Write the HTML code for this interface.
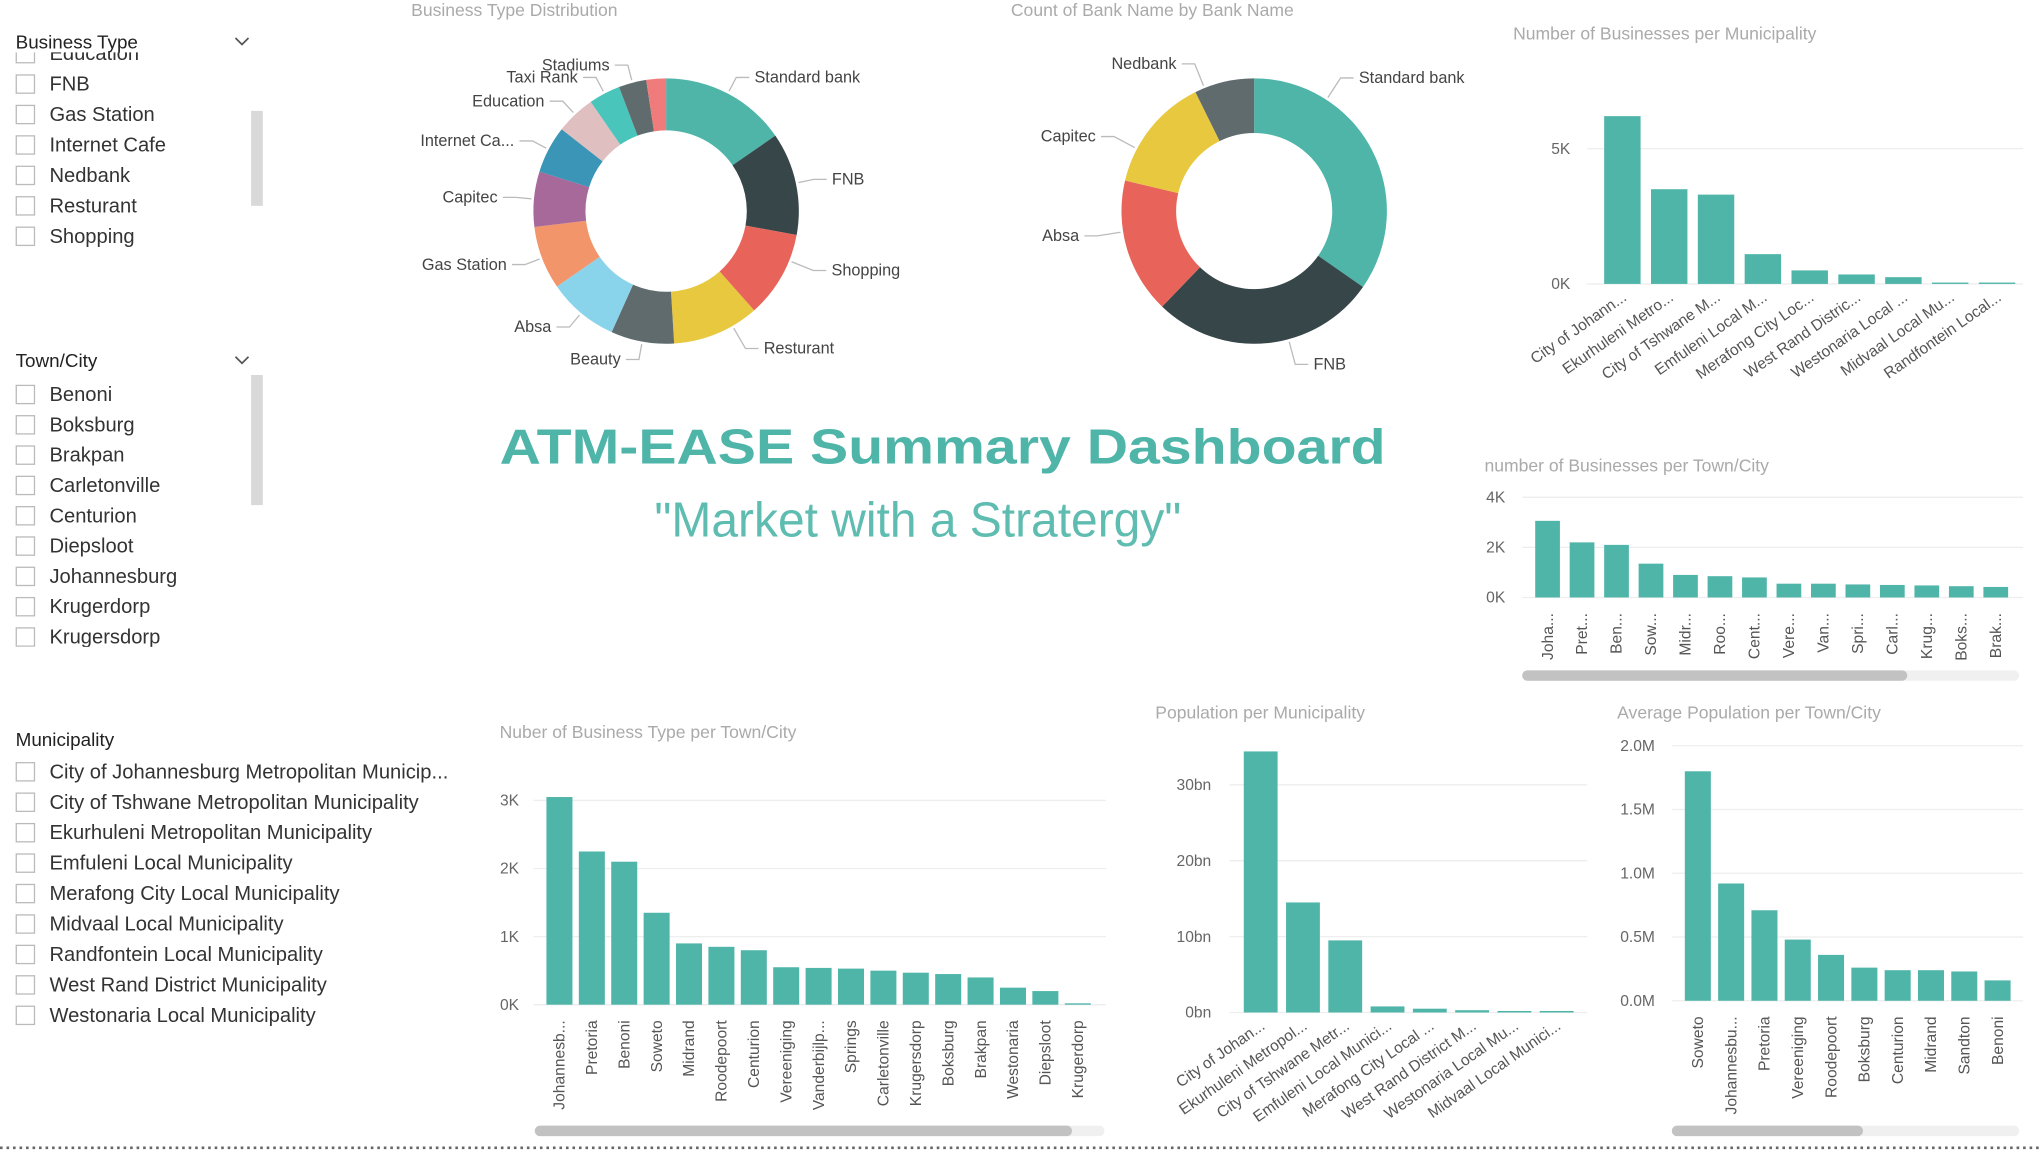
<!DOCTYPE html>
<html><head><meta charset="utf-8">
<style>
html,body{margin:0;padding:0;background:#fff;overflow:hidden}
svg{display:block;font-family:"Liberation Sans","DejaVu Sans",sans-serif}
</style></head>
<body>
<svg id="root" width="2040" height="1152" viewBox="0 0 1568 885" xmlns="http://www.w3.org/2000/svg"></svg>
<script>
// ---- data ----
const bizTypeCats = ["Standard bank","FNB","Shopping","Resturant","Beauty","Absa","Gas Station","Capitec","Internet Ca...","Education","Taxi Rank","Stadiums",""];
const bizTypeVals = [16,13,11,11,8,9,8,7,6,5,4,3.5,2.5];
const bankCats = ["Standard bank","FNB","Absa","Capitec","Nedbank"];
const bankVals = [34.7,27.5,16.5,14,7.3];
const muniCats = ["City of Johann...","Ekurhuleni Metro...","City of Tshwane M...","Emfuleni Local M...","Merafong City Loc...","West Rand Distric...","Westonaria Local ...","Midvaal Local Mu...","Randfontein Local..."];
const muniVals = [6.2,3.5,3.3,1.1,0.5,0.35,0.25,0.05,0.05];
const muniTicks = ["0K","5K"];
const townCats = ["Joha...","Pret...","Ben...","Sow...","Midr...","Roo...","Cent...","Vere...","Van...","Spri...","Carl...","Krug...","Boks...","Brak..."];
const townVals = [3.06,2.2,2.1,1.35,0.9,0.85,0.8,0.55,0.55,0.52,0.5,0.48,0.45,0.42];
const townTicks = ["0K","2K","4K"];
const typeTownCats = ["Johannesb...","Pretoria","Benoni","Soweto","Midrand","Roodepoort","Centurion","Vereeniging","Vanderbijlp...","Springs","Carletonville","Krugersdorp","Boksburg","Brakpan","Westonaria","Diepsloot","Krugerdorp"];
const typeTownVals = [3.05,2.25,2.1,1.35,0.9,0.85,0.8,0.55,0.54,0.53,0.5,0.47,0.45,0.4,0.25,0.2,0.02];
const typeTownTicks = ["0K","1K","2K","3K"];
const popMuniCats = ["City of Johan...","Ekurhuleni Metropol...","City of Tshwane Metr...","Emfuleni Local Munici...","Merafong City Local ...","West Rand District M...","Westonaria Local Mu...","Midvaal Local Munici..."];
const popMuniVals = [34.4,14.5,9.5,0.8,0.5,0.3,0.2,0.2];
const popMuniTicks = ["0bn","10bn","20bn","30bn"];
const avgPopCats = ["Soweto","Johannesbu...","Pretoria","Vereeniging","Roodepoort","Boksburg","Centurion","Midrand","Sandton","Benoni"];
const avgPopVals = [1.8,0.92,0.71,0.48,0.36,0.26,0.24,0.24,0.23,0.16];
const avgPopTicks = ["0.0M","0.5M","1.0M","1.5M","2.0M"];
const bizSlicer = ["Education","FNB","Gas Station","Internet Cafe","Nedbank","Resturant","Shopping"];
const townSlicer = ["Benoni","Boksburg","Brakpan","Carletonville","Centurion","Diepsloot","Johannesburg","Krugerdorp","Krugersdorp"];
const muniSlicer = ["City of Johannesburg Metropolitan Municip...","City of Tshwane Metropolitan Municipality","Ekurhuleni Metropolitan Municipality","Emfuleni Local Municipality","Merafong City Local Municipality","Midvaal Local Municipality","Randfontein Local Municipality","West Rand District Municipality","Westonaria Local Municipality"];

const NS="http://www.w3.org/2000/svg";
const root=document.getElementById('root');
const TEAL="#4fb5a9";
function el(tag,attrs,parent,text){const e=document.createElementNS(NS,tag);for(const k in attrs)e.setAttribute(k,attrs[k]);if(text!==undefined)e.textContent=text;(parent||root).appendChild(e);return e;}
function grp(name,inter){const g=el('g',{});


return g;}

// ---- slicers ----
function slicer(name,title,items,y0,sb,chev,clipTop,clipBot){
  const g=grp(name,true);
  const cid='clip-'+name;
  const cp=el('clipPath',{id:cid},g);el('rect',{x:0,y:clipTop,width:380,height:clipBot-clipTop},cp);
  const t=el('text',{x:12,y:y0,'font-size':14.5,fill:'#222'},g,title);
  
  
  if(chev){const c=el('path',{d:`M181 ${y0-8} l5 5 l5 -5`,fill:'none',stroke:'#555','stroke-width':1.3},g);
  
  }
  const ig=el('g',{'clip-path':`url(#${cid})`},g);
  items.forEach((s,i)=>{const y=chev?(name==='business-type-slicer'?y0+9+(i)*23.4:y0+26+i*23.3):y0+25+i*23.4;
    const it=el('g',{},ig);
    
    
    el('rect',{x:12.5,y:y-12,width:14,height:14,fill:'#fff',stroke:'#bbb','stroke-width':1},it);
    el('text',{x:38,y:y,'font-size':15.5,fill:'#333'},it,s);});
  if(sb){const r=el('rect',{x:193,y:sb[0],width:9,height:sb[1]-sb[0],fill:'#d9d9d9'},g);
  
  }
}
slicer('business-type-slicer','Business Type',bizSlicer,37,[85,158],true,40,200);
slicer('town-city-slicer','Town/City',townSlicer,282,[288,388],true,283,497);
slicer('municipality-slicer','Municipality',muniSlicer,573,null,false,575,800);

// ---- donuts ----
function donut(name,title,tx,cx,cy,R,r,cats,vals,colors,labAng){
  const g=grp(name,false);
  const tt=el('text',{x:tx,y:12,'font-size':13.5,fill:'#aaa'},g,title);
  
  
  const tot=vals.reduce((a,b)=>a+b,0);let a0=0;
  const p=(a,rr)=>[cx+rr*Math.sin(a),cy-rr*Math.cos(a)];
  vals.forEach((v,i)=>{const a1=a0+v/tot*Math.PI*2;
    const [x1,y1]=p(a0,R),[x2,y2]=p(a1,R),[x3,y3]=p(a1,r),[x4,y4]=p(a0,r);const lg=(a1-a0)>Math.PI?1:0;
    const s=el('path',{d:`M${x1} ${y1} A${R} ${R} 0 ${lg} 1 ${x2} ${y2} L${x3} ${y3} A${r} ${r} 0 ${lg} 0 ${x4} ${y4}Z`,fill:colors[i]},g);
    
    
    if(cats[i]){let am=(a0+a1)/2;let kr=R+14;
      if(labAng&&labAng[i]!=null){am=labAng[i]*Math.PI/180;kr=R+20;}
      const [ex,ey]=p(am,R+2);const [kx,ky]=p(am,kr);const right=Math.sin(am)>=0;
      const lx=kx+(right?10:-10);
      el('path',{d:`M${ex} ${ey} L${kx} ${ky} L${lx} ${ky}`,fill:'none',stroke:'#bbb','stroke-width':1},g);
      el('text',{x:lx+(right?4:-4),y:ky+4,'font-size':12.5,fill:'#444','text-anchor':right?'start':'end'},g,cats[i]);}
    a0=a1;});
}
donut('business-type-donut','Business Type Distribution',316,512,162,102,62,bizTypeCats,bizTypeVals,
 ["#4fb5a9","#374649","#e8645a","#e8c83e","#5f6b6d","#8ad4eb","#f2956a","#a66999","#3a95b6","#dfbfbf","#4ac5bb","#5f6b6d","#ef7b7b"],
 [null,null,112,150,null,null,null,null,null,null,null,null,null]);
donut('bank-count-donut','Count of Bank Name by Bank Name',777,964,162,102,60,bankCats,bankVals,
 ["#4fb5a9","#374649","#e8645a","#e8c83e","#5f6b6d"],
 [33,165,-99,-62,-22]);

// ---- bar charts ----
function bars(o){
  const g=grp(o.name,false);
  const tt=el('text',{x:o.tx,y:o.ty,'font-size':13.5,fill:'#aaa'},g,o.title);
  
  
  const n=o.ticks.length-1;
  const y=v=>o.y0-(v/o.tickStep)*((o.y0-o.yTop)/n);
  o.ticks.forEach((t,i)=>{const yy=y(i*o.tickStep);
    if(o.grid) el('line',{x1:o.gx0,x2:o.gx1,y1:yy,y2:yy,stroke:'#eee','stroke-width':1},g);
    const tl=el('text',{x:o.lx,y:yy+4,'font-size':12,fill:'#666','text-anchor':'end'},g,t);
    
    });
  o.vals.forEach((v,i)=>{const x=o.bx+i*o.sp;
    const b=el('rect',{x:x,y:y(v),width:o.bw,height:o.y0-y(v),fill:TEAL},g);
    
    
    const cx=x+o.bw/2+4, ly=o.y0+12;
    const t=el('text',{x:cx,y:ly,'font-size':12,fill:'#555','text-anchor':'end',transform:`rotate(${o.rot} ${cx} ${ly})`},g,o.cats[i]);
    
    });
  if(o.sb){const s=el('rect',{x:o.sb[0],y:o.sb[3]-4,width:o.sb[2]-o.sb[0],height:8,rx:4,fill:'#f0f0f0'},g);
    
    
    const th=el('rect',{x:o.sb[0],y:o.sb[3]-4,width:o.sb[1]-o.sb[0],height:8,rx:4,fill:'#c2c2c2'},g);
    
    }
}
bars({name:'businesses-per-municipality',title:'Number of Businesses per Municipality',tx:1163,ty:30,ticks:muniTicks,tickStep:5,y0:218,yTop:114,lx:1207,bx:1233,bw:28,sp:36,vals:muniVals,cats:muniCats,rot:-35,grid:true,gx0:1220,gx1:1555});
bars({name:'businesses-per-town',title:'number of Businesses per Town/City',tx:1141,ty:362,ticks:townTicks,tickStep:2,y0:459,yTop:382,lx:1157,bx:1180,bw:19,sp:26.5,vals:townVals,cats:townCats,rot:-90,grid:true,gx0:1170,gx1:1555,sb:[1170,1466,1552,519]});
bars({name:'business-type-per-town',title:'Nuber of Business Type per Town/City',tx:384,ty:567,ticks:typeTownTicks,tickStep:1,y0:772,yTop:615,lx:399,bx:420,bw:20,sp:24.9,vals:typeTownVals,cats:typeTownCats,rot:-90,grid:true,gx0:410,gx1:850,sb:[411,824,849,869]});
bars({name:'population-per-municipality',title:'Population per Municipality',tx:888,ty:552,ticks:popMuniTicks,tickStep:10,y0:778,yTop:603,lx:931,bx:956,bw:26,sp:32.5,vals:popMuniVals,cats:popMuniCats,rot:-35,grid:true,gx0:945,gx1:1220});
bars({name:'avg-population-per-town',title:'Average Population per Town/City',tx:1243,ty:552,ticks:avgPopTicks,tickStep:0.5,y0:769,yTop:573,lx:1272,bx:1295,bw:20,sp:25.6,vals:avgPopVals,cats:avgPopCats,rot:-90,grid:true,gx0:1285,gx1:1555,sb:[1285,1432,1552,869]});

// ---- headline ----
const h=el('text',{x:384,y:356,'font-size':38,'font-weight':'bold',fill:'#4fb5a9',textLength:681,lengthAdjust:'spacingAndGlyphs'},root,'ATM-EASE Summary Dashboard');


const st=el('text',{x:503,y:412,'font-size':38,fill:'#5ebcb0',textLength:405,lengthAdjust:'spacingAndGlyphs'},root,'"Market with a Stratergy"');


const dl=el('line',{x1:0,x2:1568,y1:882,y2:882,stroke:'#666','stroke-width':2,'stroke-dasharray':'2 3'},root);


</script>
</body></html>
